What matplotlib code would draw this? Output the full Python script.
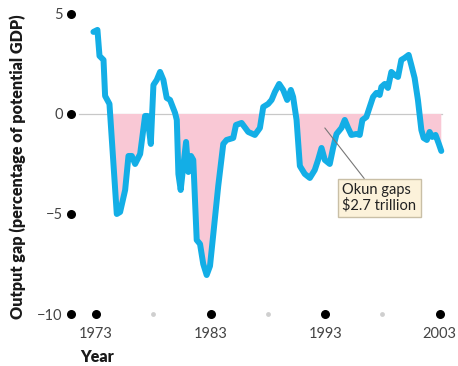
import numpy as np
import matplotlib
matplotlib.use("Agg")
import matplotlib.pyplot as plt

# output gap
year = [1972.76, 1973.11, 1973.29, 1973.64, 1973.78, 1974.16, 1974.80, 1975.09, 1975.53, 1975.82,
        1976.11, 1976.40, 1976.84, 1977.27, 1977.47, 1977.77, 1978.00, 1978.29, 1978.58, 1978.87,
        1979.16, 1979.45, 1979.89, 1980.04, 1980.18, 1980.38, 1980.61, 1980.85, 1981.05, 1981.28,
        1981.48, 1981.78, 1982.07, 1982.35, 1982.65, 1982.94, 1983.23, 1983.66, 1984.10, 1984.39,
        1984.97, 1985.21, 1985.70, 1986.28, 1986.86, 1987.30, 1987.59, 1988.02, 1988.32, 1988.61,
        1988.98, 1989.33, 1989.68, 1990.00, 1990.20, 1990.50, 1990.79, 1991.22, 1991.66, 1992.09,
        1992.38, 1992.68, 1992.97, 1993.40, 1993.69, 1993.99, 1994.42, 1994.71, 1995.00, 1995.29,
        1995.73, 1996.02, 1996.25, 1996.60, 1996.89, 1997.18, 1997.47, 1997.76, 1997.91, 1998.20,
        1998.48, 1998.78, 1999.07, 1999.36, 1999.65, 1999.94, 2000.29, 2000.52, 2000.81, 2001.10,
        2001.40, 2001.60, 2001.88, 2002.12, 2002.35, 2002.64, 2002.93, 2003.14]
gap = [4.1, 4.2, 2.9, 2.7, 0.9, 0.5, -5.0, -4.9, -3.8, -2.1,
       -2.1, -2.5, -2.0, -0.1, -0.1, -1.5, 1.45, 1.7, 2.1, 1.7,
       0.8, 0.7, 0.05, -0.3, -3.0, -3.8, -2.6, -1.4, -2.9, -2.1,
       -2.3, -6.3, -6.5, -7.5, -8.05, -7.6, -6.0, -3.6, -1.5, -1.3,
       -1.2, -0.55, -0.45, -0.9, -1.05, -0.7, 0.35, 0.5, 0.7, 1.1,
       1.5, 1.2, 0.7, 1.2, 0.85, -0.3, -2.6, -3.0, -3.2, -2.8,
       -2.3, -1.7, -2.3, -2.5, -1.7, -1.0, -0.7, -0.3, -0.7, -1.05,
       -1.0, -1.05, -0.3, -0.15, 0.35, 0.85, 1.05, 0.95, 1.35, 1.5,
       1.3, 2.1, 1.95, 1.85, 2.7, 2.8, 2.95, 2.45, 1.8, 0.7,
       -0.8, -1.2, -1.3, -0.9, -1.15, -1.05, -1.5, -1.85]

ytick_vals = [5, 0, -5, -10]
ytick_labels = ["5", "0", "\u22125", "\u221210"]
xtick_major = [1973, 1983, 1993, 2003]
xtick_minor = [1978, 1988, 1998]

year = np.array(year)
gap = np.array(gap)

plt.rcParams['font.family'] = ['Lato', 'DejaVu Sans']

fig = plt.figure(figsize=(4.58, 3.66), dpi=100)
ax = fig.add_axes([0.1550, 0.142, 0.8275, 0.820])
x0, x1 = 1970.8, 2003.9
ax.set_xlim(x0, x1)
ax.set_ylim(-10, 5)

ax.axhline(0, xmin=0.02, xmax=(2003.18 - x0) / (x1 - x0), color="#c8c8c8", lw=0.9, zorder=1)
ax.fill_between(year, gap, 0, where=gap < 0, interpolate=True, color="#f9c8d5", lw=0, zorder=1)
ax.plot(year, gap, color="#13aee6", lw=4.3, solid_joinstyle="round", solid_capstyle="round", zorder=3)

# dot "ticks"
ax.scatter([x0] * len(ytick_vals), ytick_vals, s=30, color="black", clip_on=False, zorder=4)
ax.scatter(xtick_major, [-10] * len(xtick_major), s=30, color="black", clip_on=False, zorder=4)
ax.scatter(xtick_minor, [-10] * len(xtick_minor), s=6, color="#cfcfcf", clip_on=False, zorder=4)

for s in ax.spines.values():
    s.set_visible(False)
ax.set_yticks(ytick_vals)
ax.set_yticklabels(ytick_labels)
ax.set_xticks(xtick_major)
ax.set_xticklabels([str(v) for v in xtick_major])
ax.tick_params(axis="y", length=0, pad=6, labelsize=10.5, labelcolor="#444444")
ax.tick_params(axis="x", length=0, pad=9, labelsize=10.5, labelcolor="#444444")

ax.set_ylabel("Output gap (percentage of potential GDP)", fontsize=11.6, fontweight="heavy",
              color="#1a1a1a")
ax.yaxis.set_label_coords(-0.118, 0.49)
fig.text(80 / 458, 1 - 357 / 366, "Year", fontsize=11.5, fontweight="heavy", color="#1a1a1a",
         ha="left", va="center")

ax.annotate("Okun gaps\n\\$2.7 trillion", xy=(1992.97, -0.7), xytext=(1994.5, -4.2),
            fontsize=10.5, color="#222222", ha="left", va="center", linespacing=1.05,
            bbox=dict(boxstyle="square,pad=0.3", fc="#fcf2da", ec="#c9bfa6", lw=1.0),
            arrowprops=dict(arrowstyle="-", color="#777777", lw=0.8, shrinkA=0, shrinkB=0),
            zorder=5)

fig.savefig("out.png", dpi=100)
